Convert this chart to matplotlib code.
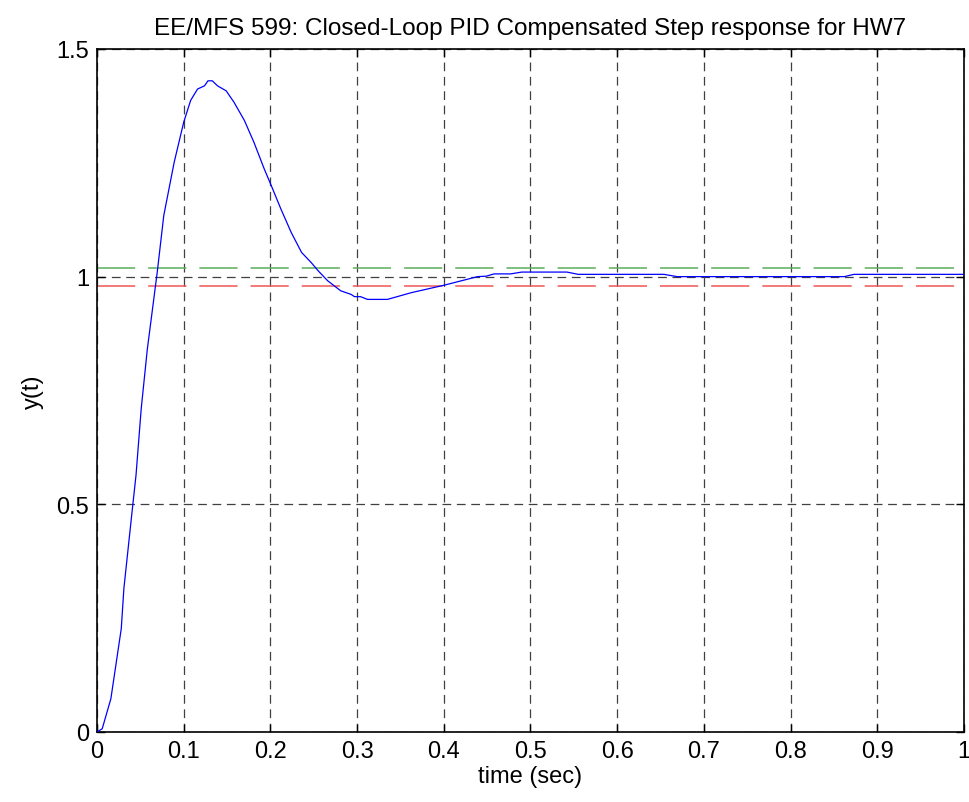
import matplotlib
matplotlib.use("Agg")
import matplotlib.pyplot as plt

# Step response
t = [0.0, 0.006, 0.016, 0.028, 0.031, 0.040, 0.045, 0.051, 0.058, 0.0695,
     0.077, 0.089, 0.100, 0.108, 0.116, 0.124, 0.128, 0.133, 0.139, 0.149, 0.158,
     0.170, 0.181, 0.193, 0.201, 0.212, 0.224, 0.236, 0.247, 0.255, 0.266, 0.281,
     0.293, 0.297, 0.304, 0.312, 0.335, 0.363, 0.400, 0.439, 0.449, 0.458, 0.477,
     0.490, 0.542, 0.555, 0.582, 0.654, 0.669, 0.862, 0.873, 1.0]
y = [0.0, 0.007, 0.073, 0.227, 0.315, 0.476, 0.564, 0.71, 0.84, 1.010,
     1.134, 1.251, 1.339, 1.387, 1.412, 1.419, 1.430, 1.430, 1.419, 1.408, 1.383,
     1.343, 1.295, 1.236, 1.200, 1.149, 1.097, 1.053, 1.031, 1.013, 0.991, 0.969,
     0.961, 0.956, 0.956, 0.950, 0.950, 0.965, 0.981, 1.000, 1.001, 1.006, 1.006,
     1.010, 1.010, 1.005, 1.005, 1.005, 1.000, 1.000, 1.005, 1.005]

upper_band = 1.02
lower_band = 0.98

title = "EE/MFS 599: Closed-Loop PID Compensated Step response for HW7"
xlabel = "time (sec)"
ylabel = "y(t)"
xticks = [0, 0.1, 0.2, 0.3, 0.4, 0.5, 0.6, 0.7, 0.8, 0.9, 1]
xticklabels = ["0", "0.1", "0.2", "0.3", "0.4", "0.5", "0.6", "0.7", "0.8", "0.9", "1"]
yticks = [0, 0.5, 1, 1.5]
yticklabels = ["0", "0.5", "1", "1.5"]

plt.rcParams['font.family'] = ['Liberation Sans', 'DejaVu Sans']

fig = plt.figure(figsize=(9.70, 8.03), dpi=100)
ax = fig.add_axes([0.100, 0.0872, 0.8938, 0.8506])

ax.plot([0, 1], [upper_band, upper_band], color='#5cae5c', lw=1.1, dashes=(25, 8.5), zorder=2)
ax.plot([0, 1], [lower_band, lower_band], color='#f05555', lw=1.1, dashes=(25, 8.5), zorder=2)
ax.plot(t, y, color='#0000ff', lw=0.9, zorder=3)

ax.set_xlim(0, 1)
ax.set_ylim(0, 1.5)
ax.set_xticks(xticks)
ax.set_xticklabels(xticklabels)
ax.set_yticks(yticks)
ax.set_yticklabels(yticklabels)
ax.grid(True, color='#404040', linestyle=(0, (7, 4.5)), lw=0.9)
ax.tick_params(direction='in', top=True, right=True, length=6, width=1,
               labelsize=17)
ax.tick_params(axis='x', pad=6)
ax.tick_params(axis='y', pad=5.5)
for s in ax.spines.values():
    s.set_linewidth(1.2)
ax.set_title(title, fontsize=17.5, pad=11)
ax.set_xlabel(xlabel, fontsize=17, labelpad=2)
ax.set_ylabel(ylabel, fontsize=17, labelpad=9)

fig.savefig("out.png", dpi=100)
